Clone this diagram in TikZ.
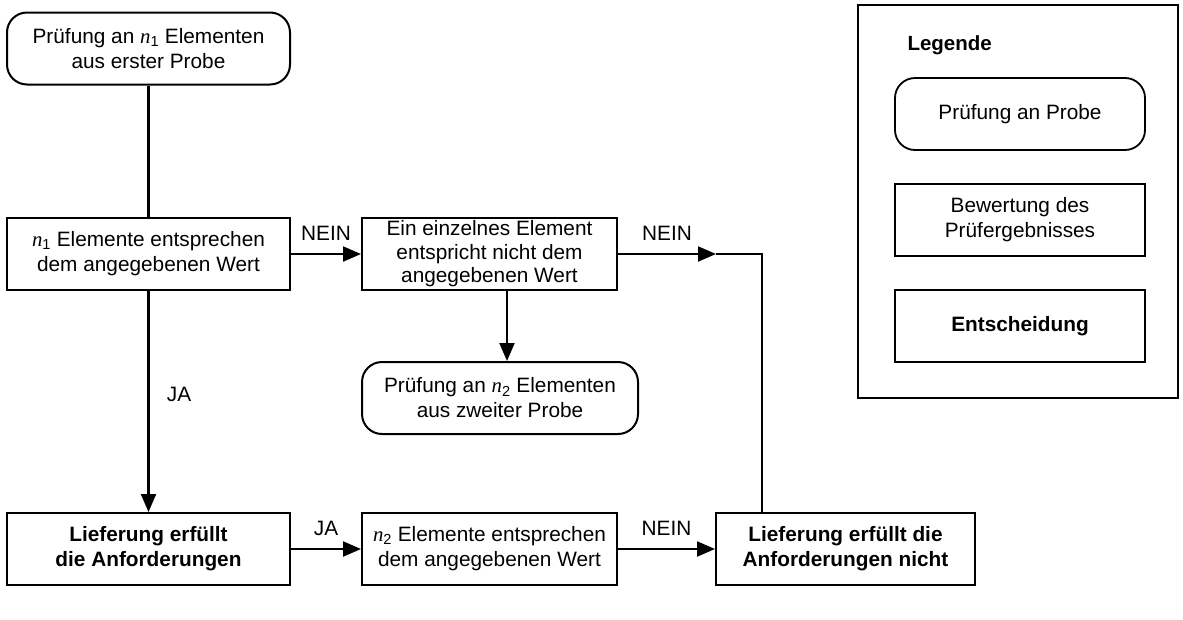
\documentclass[tikz,border=0pt]{standalone}
\usepackage{fontspec}
\setmainfont{Liberation Sans}
\newfontfamily\serifit{Liberation Serif}
\usetikzlibrary{arrows.meta}
\newcommand{\nsub}[1]{{\serifit\itshape n}\textsubscript{#1}}
\begin{document}
\begin{tikzpicture}[x=1pt,y=-1pt,
  every node/.style={font=\fontsize{20.8}{25}\selectfont},
  box/.style={draw,line width=2pt,minimum height=72pt,align=center,inner sep=0pt},
  rbox/.style={box,rounded corners=20pt},
  conn/.style={line width=2.1pt},
  arr/.style={conn,-{Triangle[length=18pt,width=15pt]}},
  lbl/.style={font=\fontsize{20.8}{22}\selectfont}]
\useasboundingbox (0,0) rectangle (1183,619);
% main nodes
\node[rbox,minimum width=283pt] (A) at (148.5,48.5) {Prüfung an \nsub{1} Elementen\\aus erster Probe};
\node[box,minimum width=283pt] (B) at (148.5,254) {\nsub{1} Elemente entsprechen\\dem angegebenen Wert};
\node[box,minimum width=255pt,font=\fontsize{20.8}{23.5}\selectfont] (C) at (489.5,254) {Ein einzelnes Element\\entspricht nicht dem\\angegebenen Wert};
\node[rbox,minimum width=276pt] (D) at (500,398) {Prüfung an \nsub{2} Elementen\\aus zweiter Probe};
\node[box,minimum width=283pt] (E) at (148.5,549) {\bfseries Lieferung erfüllt\\\bfseries die Anforderungen};
\node[box,minimum width=255pt] (F) at (489.5,549) {\nsub{2} Elemente entsprechen\\dem angegebenen Wert};
\node[box,minimum width=259pt] (G) at (845.5,549) {\bfseries Lieferung erfüllt die\\\bfseries Anforderungen nicht};
% connectors
\draw[conn] (A) -- (B);
\draw[arr] (B) -- (C) node[lbl,midway,above=9pt] {NEIN};
\draw[arr] (B) -- (E) node[lbl,pos=0.47,right=14pt] {JA};
\draw[arr] (C.south -| D.north) ++(7,0) coordinate (cs) -- (cs |- D.north);
\coordinate (mid) at (716,254);
\coordinate (turn) at (762,254);
\draw[arr] (C) -- (mid) node[lbl,pos=0.5,above=9pt] {NEIN};
\draw[conn] (mid) -- (turn) -- (turn |- G.north);
\draw[arr] (E) -- (F) node[lbl,midway,above=9pt] {JA};
\draw[arr] (F) -- (G) node[lbl,midway,above=9pt] {NEIN};
% legend
\node[draw,line width=1.8pt,minimum width=320pt,minimum height=393pt,inner sep=0pt] (L) at (1018,201.5) {};
\node[anchor=west,font=\fontsize{20.5}{22}\selectfont\bfseries] (LT) at (904,45) {Legende};
\node[rbox,minimum width=250pt,line width=1.8pt] (L1) at (1020,114) {Prüfung an Probe};
\node[box,minimum width=250pt,line width=1.7pt] (L2) at (1020,220) {Bewertung des\\Prüfergebnisses};
\node[box,minimum width=250pt,line width=1.7pt,font=\fontsize{20.8}{25}\selectfont\bfseries] (L3) at (1020,326) {Entscheidung};
\end{tikzpicture}
\end{document}
